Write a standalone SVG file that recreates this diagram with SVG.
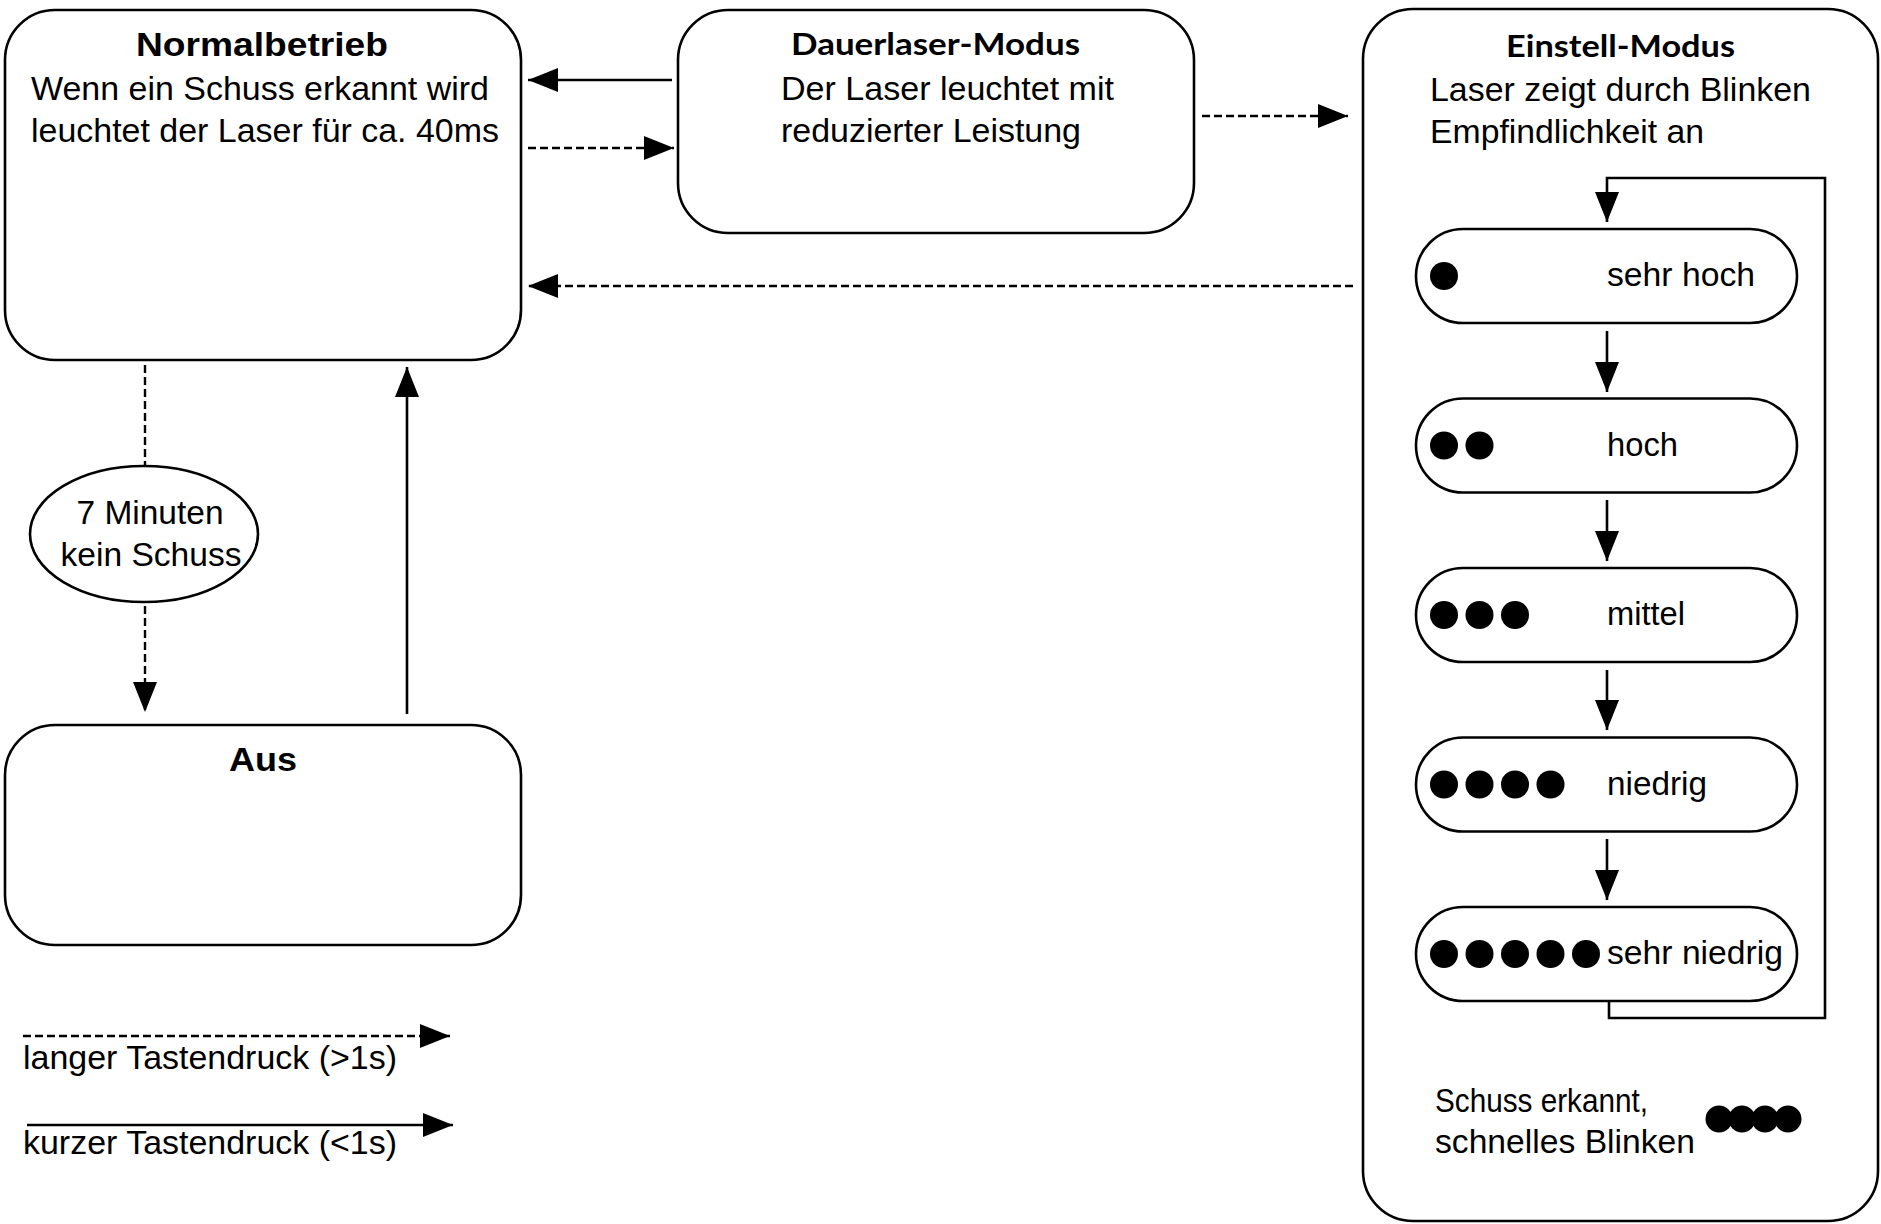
<svg xmlns="http://www.w3.org/2000/svg" width="1881" height="1224" viewBox="0 0 1881 1224">
<defs>
<style>
.box{fill:#fff;stroke:#000;stroke-width:2.6}
.t{font-family:"Liberation Sans",Arial,sans-serif;font-size:32.5px;fill:#000}
.tb{font-family:"Liberation Sans",Arial,sans-serif;font-size:33px;font-weight:bold;fill:#000}
.tc{font-family:Lato,"Open Sans",sans-serif;font-size:31px;font-weight:bold;fill:#000}
.ln{fill:none;stroke:#000;stroke-width:2.6}
.dl{fill:none;stroke:#000;stroke-width:2.4;stroke-dasharray:8 4}
.dot{fill:#000}
</style>
<marker id="ah" markerUnits="userSpaceOnUse" markerWidth="32" markerHeight="26" refX="30" refY="12" orient="auto">
<path d="M0,0 L30,12 L0,24 z" fill="#000"/>
</marker>
</defs>
<rect width="1881" height="1224" fill="#fff"/>

<g id="normalbetrieb">
<rect class="box" x="5" y="10" width="516" height="350" rx="50"/>
<text class="tb" x="262" y="56" text-anchor="middle" textLength="252" lengthAdjust="spacingAndGlyphs">Normalbetrieb</text>
<text class="t" x="31" y="100" textLength="458" lengthAdjust="spacingAndGlyphs">Wenn ein Schuss erkannt wird</text>
<text class="t" x="31" y="142" textLength="468" lengthAdjust="spacingAndGlyphs">leuchtet der Laser für ca. 40ms</text>
</g>

<g id="dauerlaser">
<rect class="box" x="678" y="10" width="516" height="223" rx="50"/>
<text class="tc" x="791" y="55" textLength="289" lengthAdjust="spacingAndGlyphs">Dauerlaser-Modus</text>
<text class="t" x="781" y="100" textLength="333" lengthAdjust="spacingAndGlyphs">Der Laser leuchtet mit</text>
<text class="t" x="781" y="142" textLength="300" lengthAdjust="spacingAndGlyphs">reduzierter Leistung</text>
</g>

<g id="einstell">
<rect class="box" x="1363" y="9" width="515" height="1212" rx="50"/>
<text class="tc" x="1506" y="57" textLength="229" lengthAdjust="spacingAndGlyphs">Einstell-Modus</text>
<text class="t" x="1430" y="101" textLength="381" lengthAdjust="spacingAndGlyphs">Laser zeigt durch Blinken</text>
<text class="t" x="1430" y="143" textLength="274" lengthAdjust="spacingAndGlyphs">Empfindlichkeit an</text>
<text class="t" x="1435" y="1112" textLength="213" lengthAdjust="spacingAndGlyphs">Schuss erkannt,</text>
<text class="t" x="1435" y="1153" textLength="260" lengthAdjust="spacingAndGlyphs">schnelles Blinken</text>
<g class="dot">
<circle cx="1719" cy="1119" r="13.5"/><circle cx="1742" cy="1119" r="13.5"/><circle cx="1765" cy="1119" r="13.5"/><circle cx="1788" cy="1119" r="13.5"/>
</g>
</g>

<g id="sehr-hoch">
<rect class="box" x="1416" y="229" width="381" height="94" rx="47"/>
<circle class="dot" cx="1444" cy="276" r="14"/>
<text class="t" x="1607" y="286" textLength="148" lengthAdjust="spacingAndGlyphs">sehr hoch</text>
</g>
<g id="hoch">
<rect class="box" x="1416" y="398.5" width="381" height="94" rx="47"/>
<circle class="dot" cx="1444" cy="445.5" r="14"/><circle class="dot" cx="1479.5" cy="445.5" r="14"/>
<text class="t" x="1607" y="455.5" textLength="71" lengthAdjust="spacingAndGlyphs">hoch</text>
</g>
<g id="mittel">
<rect class="box" x="1416" y="568" width="381" height="94" rx="47"/>
<circle class="dot" cx="1444" cy="615" r="14"/><circle class="dot" cx="1479.5" cy="615" r="14"/><circle class="dot" cx="1515" cy="615" r="14"/>
<text class="t" x="1607" y="625" textLength="78" lengthAdjust="spacingAndGlyphs">mittel</text>
</g>
<g id="niedrig">
<rect class="box" x="1416" y="737.5" width="381" height="94" rx="47"/>
<circle class="dot" cx="1444" cy="784.5" r="14"/><circle class="dot" cx="1479.5" cy="784.5" r="14"/><circle class="dot" cx="1515" cy="784.5" r="14"/><circle class="dot" cx="1550.5" cy="784.5" r="14"/>
<text class="t" x="1607" y="794.5" textLength="100" lengthAdjust="spacingAndGlyphs">niedrig</text>
</g>
<g id="sehr-niedrig">
<rect class="box" x="1416" y="907" width="381" height="94" rx="47"/>
<circle class="dot" cx="1444" cy="954" r="14"/><circle class="dot" cx="1479.5" cy="954" r="14"/><circle class="dot" cx="1515" cy="954" r="14"/><circle class="dot" cx="1550.5" cy="954" r="14"/><circle class="dot" cx="1586" cy="954" r="14"/>
<text class="t" x="1607" y="964" textLength="176" lengthAdjust="spacingAndGlyphs">sehr niedrig</text>
</g>

<g id="timeout">
<ellipse class="box" cx="144" cy="534" rx="114" ry="68"/>
<text class="t" x="150" y="524" text-anchor="middle" textLength="147" lengthAdjust="spacingAndGlyphs">7 Minuten</text>
<text class="t" x="151" y="566" text-anchor="middle" textLength="181" lengthAdjust="spacingAndGlyphs">kein Schuss</text>
</g>

<g id="aus">
<rect class="box" x="5" y="725" width="516" height="220" rx="50"/>
<text class="tb" x="263" y="771" text-anchor="middle" textLength="68" lengthAdjust="spacingAndGlyphs">Aus</text>
</g>

<g id="connectors">
<path class="ln" d="M672,80 H528" marker-end="url(#ah)"/>
<path class="dl" d="M528,148 H674" marker-end="url(#ah)"/>
<path class="dl" d="M1202,116 H1348" marker-end="url(#ah)"/>
<path class="dl" d="M1353,286 H528" marker-end="url(#ah)"/>
<path class="dl" d="M145,365 V466"/>
<path class="dl" d="M145,606 V712" marker-end="url(#ah)"/>
<path class="ln" d="M407,714 V367" marker-end="url(#ah)"/>
<path class="ln" d="M1607,331 V392" marker-end="url(#ah)"/>
<path class="ln" d="M1607,500 V561" marker-end="url(#ah)"/>
<path class="ln" d="M1607,670 V730" marker-end="url(#ah)"/>
<path class="ln" d="M1607,839 V900" marker-end="url(#ah)"/>
<path class="ln" d="M1609,1001 V1018 H1825 V178 H1607 V222" marker-end="url(#ah)"/>
</g>

<g id="legend">
<path class="dl" d="M23,1036 H450" marker-end="url(#ah)"/>
<text class="t" x="23" y="1069" textLength="374" lengthAdjust="spacingAndGlyphs">langer Tastendruck (&gt;1s)</text>
<path class="ln" d="M27,1125 H453" marker-end="url(#ah)"/>
<text class="t" x="23" y="1154" textLength="374" lengthAdjust="spacingAndGlyphs">kurzer Tastendruck (&lt;1s)</text>
</g>
</svg>
